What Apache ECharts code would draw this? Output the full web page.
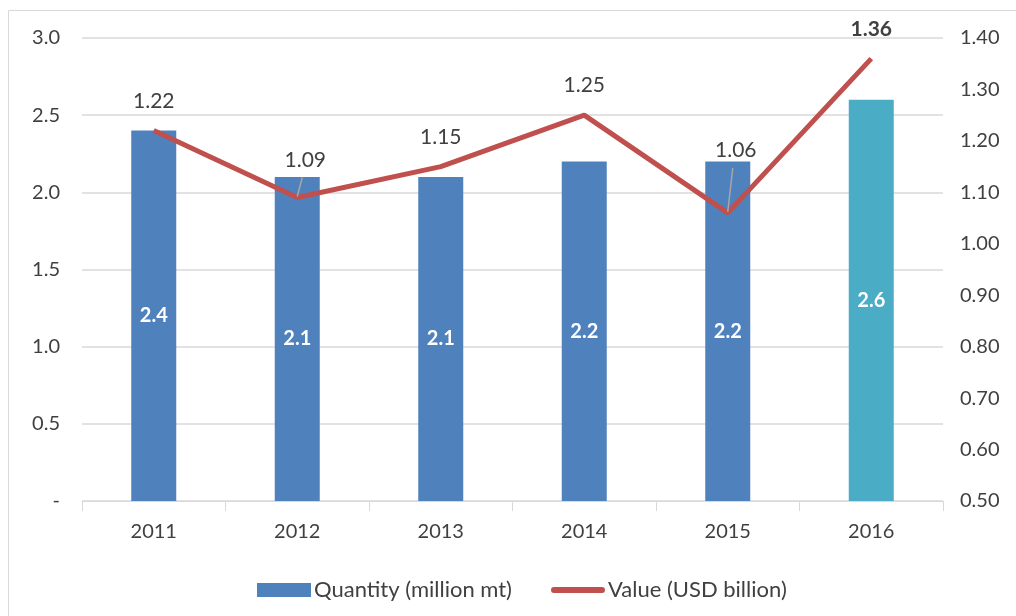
<!DOCTYPE html>
<html><head><meta charset="utf-8">
<script src="https://cdn.jsdelivr.net/npm/echarts@6/dist/echarts.min.js"></script>
<style>html,body{margin:0;padding:0;background:#fff}#c{width:1016px;height:616px}</style>
</head><body><div id="c"></div>
<script>
const years = ['2011','2012','2013','2014','2015','2016'];
const quantity = [2.4, 2.1, 2.1, 2.2, 2.2, 2.6];
const value = [1.22, 1.09, 1.15, 1.25, 1.06, 1.36];
const labelLift = [0, 8, 0, 0, 33, 0];

const FONT = 'Lato';
const chart = echarts.init(document.getElementById('c'));
chart.setOption({
  animation: false,
  textStyle: {fontFamily: FONT},
  grid: {left: 82, right: 73, top: 38, bottom: 115},
  legend: {
    top: 574, left: 252, itemGap: 39, itemWidth: 54, itemHeight: 14,
    textStyle: {fontFamily: FONT, fontSize: 22, color: '#404040', padding: [0,0,0,-2]},
    data: [
      {name:'Quantity (million mt)', icon:'rect'},
      {name:'Value (USD billion)', icon:'path://M3,0 L51,0 A3,3 0 0 1 51,6 L3,6 A3,3 0 0 1 3,0 Z', itemStyle:{color:'#C0504D'}}
    ]
  },
  xAxis: {
    type: 'category', data: years,
    axisLine: {lineStyle: {color: '#D9D9D9'}},
    axisTick: {show: true, length: 10, lineStyle: {color: '#D9D9D9'}},
    axisLabel: {color: '#404040', fontSize: 20, margin: 21, fontFamily: FONT}
  },
  yAxis: [{
    type: 'value', min: 0, max: 3, interval: 0.5,
    axisLine: {show: false}, axisTick: {show: false},
    splitLine: {lineStyle: {color: '#D9D9D9', width: 1.5}},
    axisLabel: {color: '#404040', fontSize: 20, margin: 22, fontFamily: FONT,
      formatter: v => v === 0 ? '-' : v.toFixed(1)}
  }, {
    type: 'value', min: 0.5, max: 1.4, interval: 0.1,
    axisLine: {show: false}, axisTick: {show: false}, splitLine: {show: false},
    axisLabel: {color: '#404040', fontSize: 20, margin: 17, fontFamily: FONT,
      formatter: v => v.toFixed(2)}
  }],
  series: [{
    name: 'Quantity (million mt)', type: 'bar', barWidth: 45,
    data: quantity.map((q, i) => ({value: q, itemStyle: {color: i === 5 ? '#4BACC6' : '#4F81BD'}})),
    itemStyle: {color: '#4F81BD'},
    label: {show: true, position: 'inside', color: '#fff', fontWeight: 'bold', fontSize: 20, fontFamily: FONT,
      formatter: p => p.value.toFixed(1)}
  }, {
    name: 'Value (USD billion)', type: 'line', yAxisIndex: 1, z: 3,
    data: value.map((v, i) => ({
      value: v,
      label: i === 5 ? {fontWeight: 'bold'} : {}
    })),
    symbol: 'circle', symbolSize: 0.1, showSymbol: true,
    lineStyle: {color: '#C0504D', width: 5}, itemStyle: {color: '#C0504D'},
    label: {show: true, position: 'top', distance: 19, color: '#404040', fontSize: 21, fontFamily: FONT,
      formatter: p => p.value.toFixed(2)},
    labelLayout: p => labelLift[p.dataIndex] ? {dx: 8, dy: -labelLift[p.dataIndex]} : {}
  }]
});

// border + leader lines computed through the library's scales
const graphics = [{type:'rect', shape:{x:8.5,y:10.5,width:1030,height:640}, style:{fill:'none', stroke:'#D9D9D9', lineWidth:1}, z:-10}];
value.forEach((v, i) => {
  if (!labelLift[i]) return;
  const p = chart.convertToPixel({xAxisIndex: 0, yAxisIndex: 1}, [i, v]);
  graphics.push({type:'line', z: 100,
    shape:{x1: p[0], y1: p[1] - 1, x2: p[0] + 5, y2: p[1] - labelLift[i] - 12},
    style:{stroke:'#A6A6A6', lineWidth:1.5}});
});
chart.setOption({graphic: graphics});
</script></body></html>
